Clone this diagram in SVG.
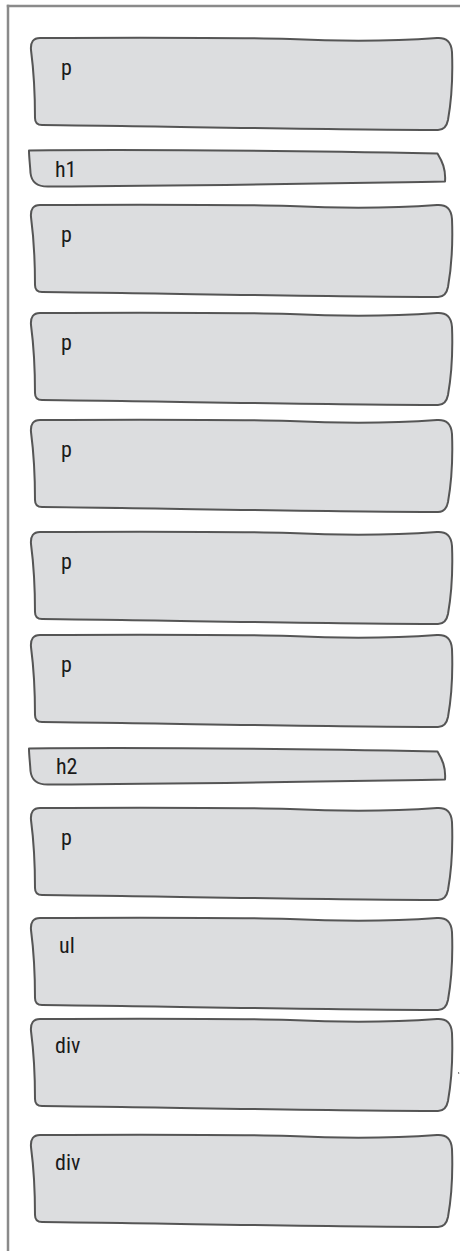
<svg xmlns="http://www.w3.org/2000/svg" xmlns:xlink="http://www.w3.org/1999/xlink" width="460" height="1251" viewBox="0 0 460 1251">
<style>
.box{fill:#dcdddf;stroke:#555555;stroke-width:2;stroke-linejoin:round}
.frame{fill:none;stroke:#8a8a8a;stroke-width:2.5}
.lbl{font-family:"Liberation Sans Narrow","Roboto Condensed","Arial Narrow","Liberation Sans",sans-serif;font-size:22px;fill:#1a1a1a}
</style>
<defs>
<path id="pbox" d="M 40 0 C 150 -0.5 230 -0.5 290 1 C 330 3 390 3.5 437 0 Q 451 -1 452 14 C 453 40 451 65 448 82 Q 446 92 438 92 C 330 92 150 88 42 87 Q 35 87 35 80 C 35 60 34 35 31 12 Q 30 0 40 0 Z"/>
<path id="hbox" d="M 29 1.5 C 150 0 300 2 437.5 4.5 C 442 12 446 20 445 32.5 C 350 34 200 37 50 37.5 Q 32 38.5 30.5 24 C 30 15 29 8 29 1.5 Z"/>
</defs>
<g id="frame">
<line class="frame" x1="6.8" y1="6" x2="460" y2="6"/>
<line class="frame" x1="8" y1="4.8" x2="8" y2="1251"/>
</g>
<g id="node-p1"><use xlink:href="#pbox" class="box" transform="translate(0,38)"/><text class="lbl" x="61" y="75">p</text></g>
<g id="node-h1"><use xlink:href="#hbox" class="box" transform="translate(0,149)"/><text class="lbl" x="55" y="177">h1</text></g>
<g id="node-p2"><use xlink:href="#pbox" class="box" transform="translate(0,205)"/><text class="lbl" x="61" y="242">p</text></g>
<g id="node-p3"><use xlink:href="#pbox" class="box" transform="translate(0,313)"/><text class="lbl" x="61" y="350">p</text></g>
<g id="node-p4"><use xlink:href="#pbox" class="box" transform="translate(0,420)"/><text class="lbl" x="61" y="457">p</text></g>
<g id="node-p5"><use xlink:href="#pbox" class="box" transform="translate(0,532)"/><text class="lbl" x="61" y="569">p</text></g>
<g id="node-p6"><use xlink:href="#pbox" class="box" transform="translate(0,635)"/><text class="lbl" x="61" y="672">p</text></g>
<g id="node-h2"><use xlink:href="#hbox" class="box" transform="translate(0,747)"/><text class="lbl" x="56" y="774">h2</text></g>
<g id="node-p7"><use xlink:href="#pbox" class="box" transform="translate(0,808)"/><text class="lbl" x="61" y="845">p</text></g>
<g id="node-ul"><use xlink:href="#pbox" class="box" transform="translate(0,918)"/><text class="lbl" x="59" y="953">ul</text></g>
<g id="node-div1"><use xlink:href="#pbox" class="box" transform="translate(0,1019)"/><text class="lbl" x="55" y="1053">div</text></g>
<g id="node-div2"><use xlink:href="#pbox" class="box" transform="translate(0,1135)"/><text class="lbl" x="55" y="1170">div</text></g>
<g id="connectors"></g>
<line x1="458.5" y1="1072" x2="458.8" y2="1074" stroke="#777" stroke-width="1"/>
</svg>
